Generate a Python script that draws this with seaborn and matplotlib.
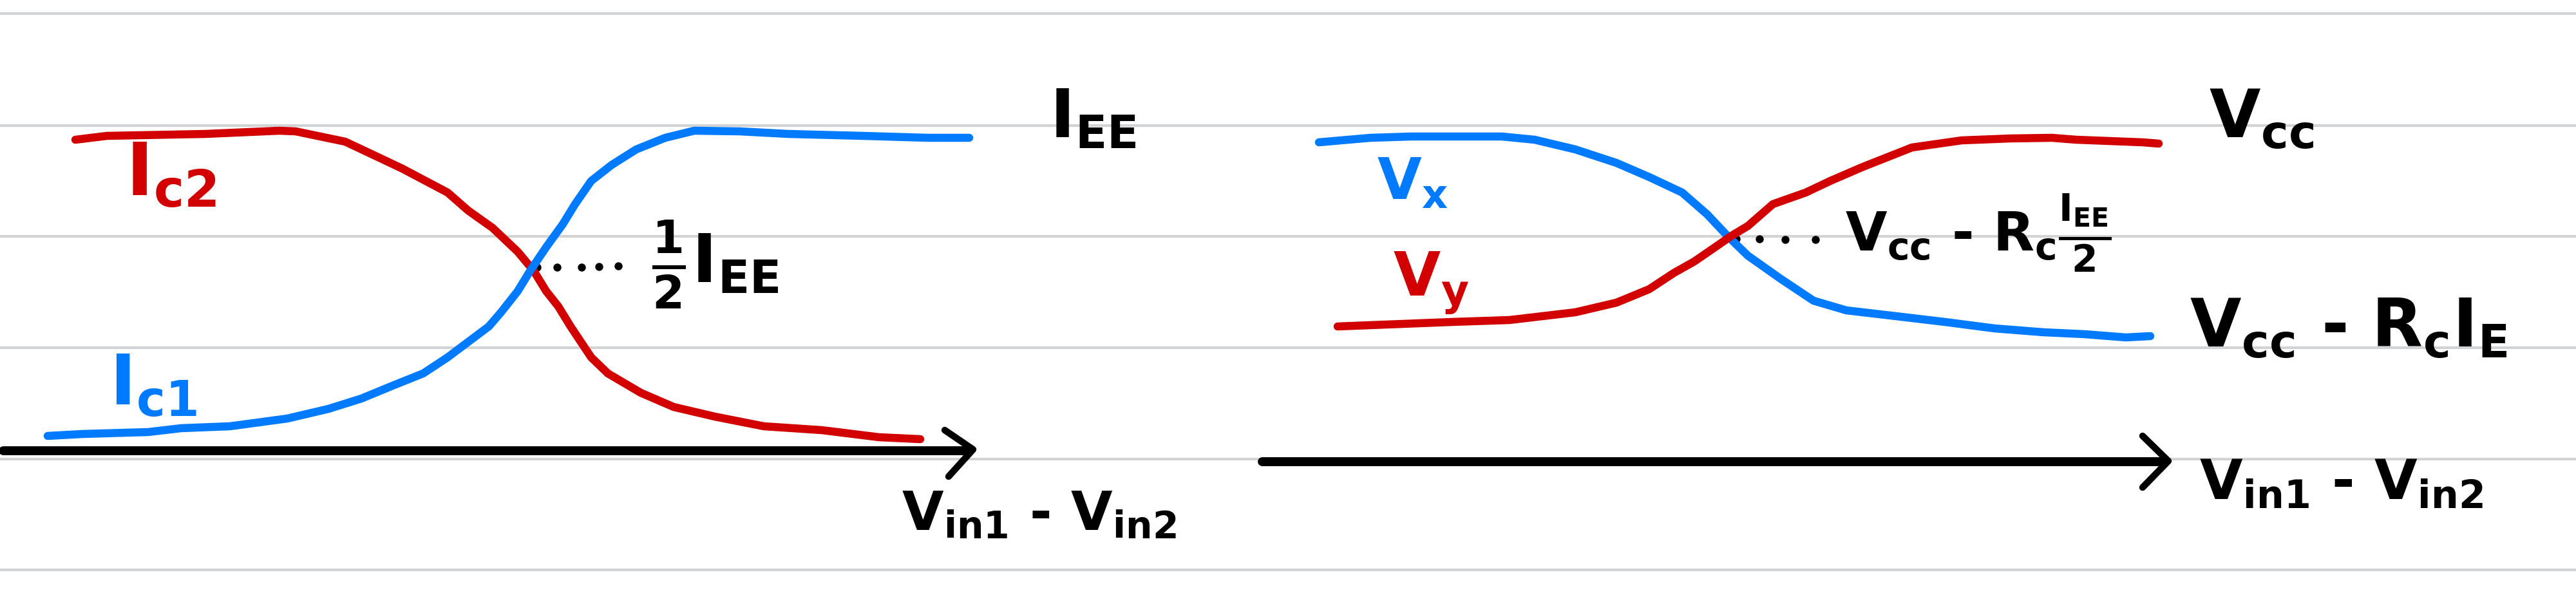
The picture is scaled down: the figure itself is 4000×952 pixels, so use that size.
import matplotlib
matplotlib.use("Agg")
import matplotlib.pyplot as plt
import seaborn as sns

# notebook page (pixel coordinates, y grows downward)
rule_y = [21, 195, 367, 540, 713, 885]

# left sketch: collector currents vs differential input
ic2_x = [117, 166, 319, 434, 459, 536, 587, 625, 695, 727, 765, 804, 829, 848,
         867, 886, 918, 944, 995, 1046, 1110, 1186, 1276, 1365, 1429]
ic2_y = [217, 211, 208, 203, 204, 220, 244, 262, 299, 327, 354, 391, 421, 452,
         476, 507, 555, 580, 610, 632, 647, 662, 668, 679, 682]
ic1_x = [74, 128, 230, 281, 357, 446, 510, 561, 612, 657, 695, 727, 759, 778,
         804, 823, 848, 874, 893, 918, 950, 988, 1033, 1078, 1148, 1224, 1339,
         1441, 1505]
ic1_y = [677, 674, 671, 665, 662, 650, 635, 619, 598, 580, 555, 531, 507, 485,
         452, 421, 384, 348, 317, 281, 256, 232, 214, 203, 204, 208, 211, 214,
         214]
left_dots_x = [834, 865, 903, 930, 960]
left_dots_y = [415, 415, 415, 414, 413]
left_axis_x = [5, 1505]
left_axis_y = [700, 700]
left_head_x = [1467, 1511, 1473]
left_head_y = [668, 698, 740]

# right sketch: output voltages vs differential input
vx_x = [2048, 2128, 2191, 2332, 2383, 2446, 2510, 2561, 2612, 2651, 2682, 2714,
        2765, 2816, 2867, 2944, 3020, 3097, 3173, 3237, 3301, 3339]
vx_y = [221, 214, 212, 212, 217, 232, 253, 275, 299, 333, 366, 397, 433, 467,
        482, 491, 500, 510, 516, 519, 524, 522]
vy_x = [2077, 2153, 2255, 2344, 2446, 2510, 2561, 2599, 2631, 2663, 2689, 2714,
        2753, 2804, 2842, 2893, 2931, 2969, 3046, 3122, 3186, 3224, 3327, 3352]
vy_y = [507, 504, 500, 497, 485, 470, 449, 424, 406, 384, 366, 351, 317, 299,
        281, 259, 244, 229, 218, 215, 214, 217, 221, 223]
right_dots_x = [2696, 2732, 2772, 2819]
right_dots_y = [371, 371, 372, 372]
right_axis_x = [1960, 3362]
right_axis_y = [717, 717]
right_head_x = [3327, 3367, 3327]
right_head_y = [677, 716, 757]

RED = "#D20000"
BLUE = "#007BFF"
GRAY = "#D2D3D5"

sns.set_style("white")
plt.rcParams["font.family"] = ["DejaVu Sans"]
plt.rcParams["mathtext.default"] = "regular"
plt.rcParams["font.weight"] = "bold"
plt.rcParams["mathtext.fontset"] = "custom"
plt.rcParams["mathtext.rm"] = "DejaVu Sans:bold"
plt.rcParams["mathtext.it"] = "DejaVu Sans:bold"
plt.rcParams["mathtext.bf"] = "DejaVu Sans:bold"

fig = plt.figure(figsize=(40, 9.52), dpi=100)
ax = fig.add_axes([0, 0, 1, 1])
ax.set_xlim(0, 4000)
ax.set_ylim(952, 0)
ax.axis("off")

for y in rule_y:
    ax.axhline(y, color=GRAY, lw=3, zorder=0)


def stroke(xs, ys, color, lw):
    sns.lineplot(x=xs, y=ys, sort=False, estimator=None, color=color, lw=lw,
                 ax=ax, solid_capstyle="round", solid_joinstyle="round")


stroke(ic2_x, ic2_y, RED, 9)
stroke(ic1_x, ic1_y, BLUE, 9)
stroke(vx_x, vx_y, BLUE, 9)
stroke(vy_x, vy_y, RED, 9)
stroke(left_axis_x, left_axis_y, "black", 10)
stroke(left_head_x, left_head_y, "black", 7.5)
stroke(right_axis_x, right_axis_y, "black", 10)
stroke(right_head_x, right_head_y, "black", 7.5)

sns.scatterplot(x=left_dots_x, y=left_dots_y, color="black", s=80,
                linewidth=0, ax=ax)
sns.scatterplot(x=right_dots_x, y=right_dots_y, color="black", s=80,
                linewidth=0, ax=ax)

ax.text(195, 272, "I$_{c2}$", color=RED, fontsize=82, va="center")
ax.text(170, 598, "I$_{c1}$", color=BLUE, fontsize=78, va="center")
ax.text(1630, 185, "I$_{EE}$", color="black", fontsize=74, va="center")
ax.text(1012, 410, r"$\frac{1}{2}$I$_{EE}$", color="black", fontsize=74,
        va="center")
ax.text(1400, 800, "V$_{in1}$ - V$_{in2}$", color="black", fontsize=60,
        va="center")

ax.text(2138, 285, "V$_x$", color=BLUE, fontsize=64, va="center")
ax.text(2163, 440, "V$_y$", color=RED, fontsize=68, va="center")
ax.text(2865, 362, r"V$_{cc}$ - R$_c$$\frac{I_{EE}}{2}$", color="black",
        fontsize=60, va="center")
ax.text(3430, 185, "V$_{cc}$", color="black", fontsize=74, va="center")
ax.text(3400, 510, "V$_{cc}$ - R$_c$I$_E$", color="black", fontsize=74,
        va="center")
ax.text(3415, 752, "V$_{in1}$ - V$_{in2}$", color="black", fontsize=62,
        va="center")

fig.savefig("out.png", dpi=100, facecolor="white")
plt.close(fig)
